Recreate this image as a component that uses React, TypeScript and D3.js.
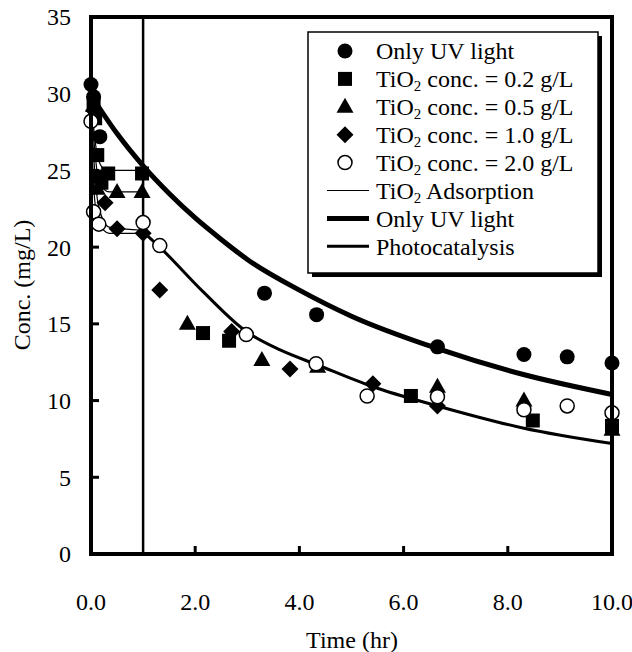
import React from 'react';
import * as d3 from 'd3';

// measured points (time in hr, conc. in mg/L)
const onlyUV = [[0, 30.6], [0.05, 29.8], [0.17, 27.2], [3.33, 17.0], [4.33, 15.6], [6.65, 13.5], [8.31, 13.0], [9.14, 12.85], [10, 12.45]];
const tio2_02 = [[0.05, 29.4], [0.08, 28.4], [0.12, 26.0], [0.1, 24.6], [0.2, 24.2], [0.33, 24.8], [0.98, 24.8], [2.15, 14.4], [2.65, 13.9], [6.14, 10.3], [8.48, 8.7], [10, 8.35]];
const tio2_05 = [[0.05, 29.2], [0.12, 23.8], [0.5, 23.6], [0.98, 23.6], [1.85, 15.0], [3.28, 12.65], [4.35, 12.2], [6.65, 10.9], [8.31, 10.0], [10, 8.1]];
const tio2_10 = [[0.05, 28.9], [0.27, 22.9], [0.5, 21.2], [1.0, 20.9], [1.32, 17.2], [2.7, 14.5], [3.82, 12.05], [5.41, 11.1], [6.65, 9.65]];
const tio2_20 = [[0.0, 28.2], [0.05, 22.3], [0.15, 21.5], [1.0, 21.6], [1.32, 20.1], [2.98, 14.3], [4.32, 12.4], [5.3, 10.3], [6.65, 10.25], [8.31, 9.4], [9.14, 9.65], [10, 9.2]];

// fitted curves
const uvCurve = [[0, 29.9], [0.5, 27.4], [1, 25.3], [1.5, 23.5], [2, 21.9], [2.5, 20.5], [3, 19.2], [4, 17.2], [5, 15.5], [6.64, 13.4], [8.3, 11.7], [10, 10.4]];
const photoCurve = [[1.0, 21.0], [1.32, 20.0], [2.15, 17.1], [2.98, 14.5], [3.63, 13.3], [4.33, 12.35], [5.41, 10.9], [6.65, 9.65], [8.31, 8.2], [10, 7.2]];
const adsorption = [
  [[0, 29.8], [0.06, 27.5], [0.15, 25.6], [0.3, 25.0], [1.0, 25.0]],
  [[0, 29.6], [0.06, 26.8], [0.15, 24.3], [0.35, 23.6], [1.0, 23.6]],
  [[0, 29.4], [0.06, 25.5], [0.15, 22.6], [0.35, 21.3], [1.0, 21.1]],
  [[0, 28.5], [0.06, 23.5], [0.15, 21.6], [0.35, 20.9], [1.0, 20.9]],
];

const xTicks = [0, 2, 4, 6, 8, 10];
const yTicks = [0, 5, 10, 15, 20, 25, 30, 35];

const FONT = '"Liberation Serif", "Times New Roman", serif';

function Marker({ kind, cx, cy }) {
  if (kind === 'circle') return <circle cx={cx} cy={cy} r={7.5} fill="#000" />;
  if (kind === 'square') return <rect x={cx - 7} y={cy - 7} width={14} height={14} fill="#000" />;
  if (kind === 'triangle') return <path d={`M${cx},${cy - 9}L${cx + 8.5},${cy + 6}L${cx - 8.5},${cy + 6}Z`} fill="#000" />;
  if (kind === 'diamond') return <path d={`M${cx},${cy - 8.5}L${cx + 8.5},${cy}L${cx},${cy + 8.5}L${cx - 8.5},${cy}Z`} fill="#000" />;
  return <circle cx={cx} cy={cy} r={7} fill="#fff" stroke="#000" strokeWidth={1.5} />;
}

export default function App() {
  const x = d3.scaleLinear().domain([0, 10]).range([91, 612]);
  const y = d3.scaleLinear().domain([0, 35]).range([554, 17]);
  const line = d3.line().x(d => x(d[0])).y(d => y(d[1])).curve(d3.curveMonotoneX);

  const series = [
    { kind: 'circle', data: onlyUV },
    { kind: 'square', data: tio2_02 },
    { kind: 'triangle', data: tio2_05 },
    { kind: 'diamond', data: tio2_10 },
    { kind: 'open', data: tio2_20 },
  ];

  const legendRows = [
    { kind: 'circle', label: ['Only UV light'] },
    { kind: 'square', label: ['TiO', '2', ' conc. = 0.2 g/L'] },
    { kind: 'triangle', label: ['TiO', '2', ' conc. = 0.5 g/L'] },
    { kind: 'diamond', label: ['TiO', '2', ' conc. = 1.0 g/L'] },
    { kind: 'open', label: ['TiO', '2', ' conc. = 2.0 g/L'] },
    { line: 1.2, label: ['TiO', '2', ' Adsorption'] },
    { line: 5, label: ['Only UV light'] },
    { line: 3, label: ['Photocatalysis'] },
  ];

  return (
    <svg width={632} height={652} style={{ position: 'absolute', left: 0, top: 0 }} fontFamily={FONT}>
      <rect width={632} height={652} fill="#fff" />

      {/* curves */}
      {adsorption.map((a, i) => (
        <path key={i} d={line(a)} fill="none" stroke="#000" strokeWidth={1.2} />
      ))}
      <path d={line(uvCurve)} fill="none" stroke="#000" strokeWidth={5} />
      <path d={line(photoCurve)} fill="none" stroke="#000" strokeWidth={3} />

      {/* lamp on at 1 hr */}
      <line x1={x(1)} x2={x(1)} y1={y(35)} y2={y(0)} stroke="#000" strokeWidth={2.5} />

      {series.map(s => s.data.map((d, i) => (
        <Marker key={s.kind + i} kind={s.kind} cx={x(d[0])} cy={y(d[1])} />
      )))}

      {/* frame and ticks */}
      <rect x={x(0)} y={y(35)} width={x(10) - x(0)} height={y(0) - y(35)} fill="none" stroke="#000" strokeWidth={4} />
      {yTicks.slice(1, -1).map(t => (
        <line key={t} x1={x(0)} x2={x(0) + 8} y1={y(t)} y2={y(t)} stroke="#000" strokeWidth={3} />
      ))}
      {xTicks.slice(1, -1).map(t => (
        <line key={t} x1={x(t)} x2={x(t)} y1={y(0)} y2={y(0) - 8} stroke="#000" strokeWidth={3} />
      ))}

      <g fontSize={24}>
        {yTicks.map(t => (
          <text key={t} x={71} y={y(t)} dy="0.35em" textAnchor="end">{t}</text>
        ))}
        {xTicks.map(t => (
          <text key={t} x={x(t)} y={610} textAnchor="middle">{t.toFixed(1)}</text>
        ))}
        <text x={352} y={648} textAnchor="middle">Time (hr)</text>
        <text transform="translate(30,285) rotate(-90)" textAnchor="middle">Conc. (mg/L)</text>
      </g>

      {/* legend */}
      <rect x={312} y={36} width={290} height={241} fill="#000" />
      <rect x={308} y={32} width={290} height={241} fill="#fff" stroke="#000" strokeWidth={1.5} />
      <g fontSize={24}>
        {legendRows.map((r, i) => {
          const cy = 51 + i * 27.9;
          return (
            <g key={i}>
              {r.kind ? <Marker kind={r.kind} cx={345} cy={cy} /> :
                <line x1={327} x2={369} y1={cy} y2={cy} stroke="#000" strokeWidth={r.line} />}
              <text x={376} y={cy} dy="0.35em">
                {r.label[0]}
                {r.label.length > 1 && <tspan fontSize={15} dy={4}>{r.label[1]}</tspan>}
                {r.label.length > 1 && <tspan dy={-4}>{r.label[2]}</tspan>}
              </text>
            </g>
          );
        })}
      </g>
    </svg>
  );
}
